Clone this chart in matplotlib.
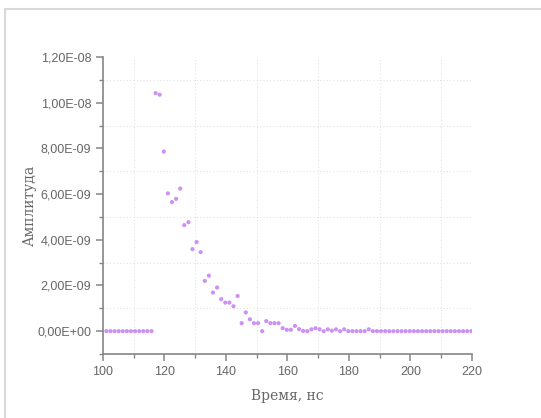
import matplotlib
matplotlib.use("Agg")
import matplotlib.pyplot as plt
from matplotlib.ticker import MultipleLocator, FuncFormatter

# time samples, ns
time_ns = [
    101.10, 102.43, 103.77, 105.10, 106.43, 107.77, 109.10, 110.43, 111.77, 113.10,
    114.43, 115.77, 117.10, 118.43, 119.77, 121.10, 122.43, 123.77, 125.10, 126.43,
    127.77, 129.10, 130.43, 131.77, 133.10, 134.43, 135.77, 137.10, 138.43, 139.77,
    141.10, 142.43, 143.77, 145.10, 146.43, 147.77, 149.10, 150.43, 151.77, 153.10,
    154.43, 155.77, 157.10, 158.43, 159.77, 161.10, 162.43, 163.77, 165.10, 166.43,
    167.77, 169.10, 170.43, 171.77, 173.10, 174.43, 175.77, 177.10, 178.43, 179.77,
    181.10, 182.43, 183.77, 185.10, 186.43, 187.77, 189.10, 190.43, 191.77, 193.10,
    194.43, 195.77, 197.10, 198.43, 199.77, 201.10, 202.43, 203.77, 205.10, 206.43,
    207.77, 209.10, 210.43, 211.77, 213.10, 214.43, 215.77, 217.10, 218.43, 219.77,
]

# amplitude, units of 1e-9
amp_e9 = [
    0, 0, 0, 0, 0, 0, 0, 0, 0, 0, 0, 0,
    10.42, 10.35, 7.86, 6.03, 5.65, 5.79, 6.24, 4.64, 4.77, 3.59,
    3.90, 3.46, 2.20, 2.43, 1.69, 1.91, 1.40, 1.25, 1.25, 1.09,
    1.54, 0.35, 0.82, 0.52, 0.35, 0.35, 0.00, 0.44, 0.35, 0.35,
    0.35, 0.13, 0.06, 0.06, 0.23, 0.09, 0.01, 0.00, 0.08, 0.13,
    0.08, 0.00, 0.08, 0.02, 0.08, 0.00, 0.08, 0.00, 0.00, 0.00,
    0.00, 0.00, 0.08, 0.00, 0.00,
    0, 0, 0, 0, 0, 0, 0, 0, 0, 0, 0, 0, 0, 0, 0, 0, 0, 0, 0, 0, 0, 0, 0,
]

amplitude = [v * 1e-9 for v in amp_e9]

axis_col = '#858585'
text_col = '#666666'

fig = plt.figure(figsize=(5.41, 4.18), dpi=100)
ax = fig.add_axes([103 / 541, 64 / 418, 369 / 541, 297 / 418])

# light frame of the graph page
fig.patches.append(plt.Rectangle((5 / 541, -0.1), 1.2, 0.1 + (418 - 9) / 418,
                                 transform=fig.transFigure, fill=False,
                                 ec='#d9d9d9', lw=1.5))

ax.scatter(time_ns, amplitude, s=9, color='#cb92f4', edgecolors='none', zorder=3)

ax.set_xlim(100, 220)
ax.set_ylim(-1e-9, 1.2e-8)
ax.xaxis.set_major_locator(MultipleLocator(20))
ax.xaxis.set_minor_locator(MultipleLocator(10))
ax.yaxis.set_major_locator(MultipleLocator(2e-9))
ax.yaxis.set_minor_locator(MultipleLocator(1e-9))
ax.yaxis.set_major_formatter(FuncFormatter(lambda v, p: f"{v:.2E}".replace('.', ',')))

ax.grid(which='minor', color='#e2e2e2', linestyle=(0, (1, 2)), linewidth=0.8)
ax.set_axisbelow(True)

for side in ['top', 'right']:
    ax.spines[side].set_visible(False)
for side in ['left', 'bottom']:
    ax.spines[side].set_color(axis_col)
    ax.spines[side].set_linewidth(1.2)

ax.tick_params(which='major', length=5, width=1.1, color=axis_col,
               labelsize=9, labelcolor=text_col)
ax.tick_params(which='minor', length=3, width=1.0, color=axis_col)
for lab in ax.get_xticklabels() + ax.get_yticklabels():
    lab.set_family('Liberation Sans')

ax.set_xlabel('Время, нс', family='DejaVu Serif', fontsize=10, color=text_col, labelpad=8)
ax.set_ylabel('Амплитуда', family='DejaVu Serif', fontsize=10, color=text_col, labelpad=0)

fig.savefig('out.png', dpi=100)
